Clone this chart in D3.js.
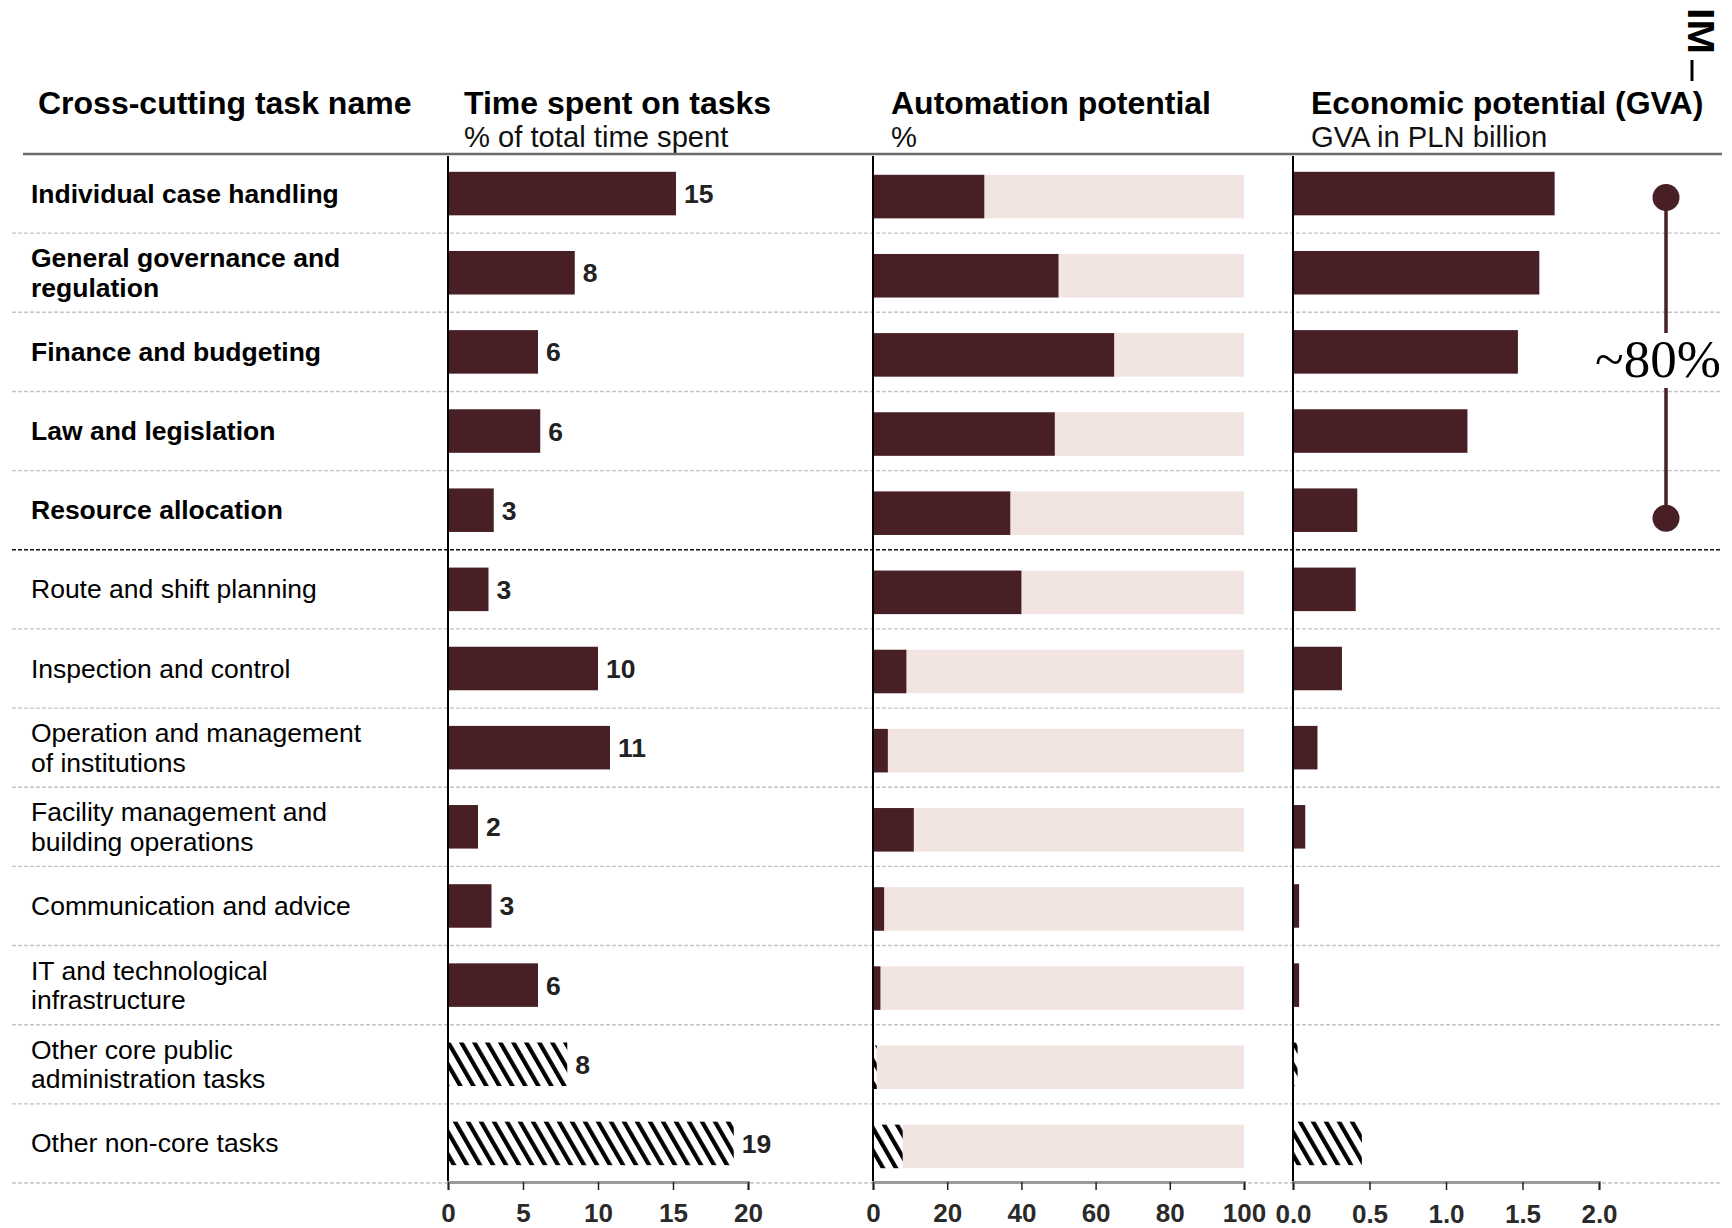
<!DOCTYPE html>
<html>
<head>
<meta charset="utf-8" />
<title>Cross-cutting tasks</title>
<style>
  html, body { margin: 0; background: #fff; }
  svg text { font-family: "Liberation Sans", Arial, sans-serif; }
</style>
</head>
<body>
<svg id="chart" width="1732" height="1228"></svg>
<script src="https://cdn.jsdelivr.net/npm/d3@7/dist/d3.min.js"></script>
<script>
// rows, top to bottom ("\n" = where the label wraps)
var categories = [
  "Individual case handling",
  "General governance and\nregulation",
  "Finance and budgeting",
  "Law and legislation",
  "Resource allocation",
  "Route and shift planning",
  "Inspection and control",
  "Operation and management\nof institutions",
  "Facility management and\nbuilding operations",
  "Communication and advice",
  "IT and technological\ninfrastructure",
  "Other core public\nadministration tasks",
  "Other non-core tasks"
];
// top = the ~80% group, rest = other named tasks, other = hatched remainder
var taskGroup = ["top", "top", "top", "top", "top",
  "rest", "rest", "rest", "rest", "rest", "rest", "other", "other"];

var timeSpent  = [15.2, 8.45, 6.0, 6.15, 3.05, 2.7, 10.0, 10.8, 2.0, 2.9, 6.0, 7.95, 19.05]; // % of total time
var automation = [30, 50, 65, 49, 37, 40, 9, 4, 11, 3, 2, 1, 8];                            // %
var gva        = [1.71, 1.61, 1.47, 1.14, 0.42, 0.41, 0.32, 0.16, 0.08, 0.04, 0.04, 0.03, 0.45]; // PLN bn

var timeTicks = [0, 5, 10, 15, 20];
var autoTicks = [0, 20, 40, 60, 80, 100];
var gvaTicks  = [0, 0.5, 1, 1.5, 2];

var headers = [
  { title: "Cross-cutting task name", sub: "" },
  { title: "Time spent on tasks", sub: "% of total time spent" },
  { title: "Automation potential", sub: "%" },
  { title: "Economic potential (GVA)", sub: "GVA in PLN billion" }
];

var MAROON = "#481f25", PINK = "#f2e4e1";

var svg = d3.select("#chart");

var defs = svg.append("defs");
var hatch = defs.append("pattern")
    .attr("id", "hatch")
    .attr("patternUnits", "userSpaceOnUse")
    .attr("width", 13)
    .attr("height", 10)
    .attr("patternTransform", "skewX(30)");
hatch.append("rect").attr("width", 13).attr("height", 10).attr("fill", "#fff");
hatch.append("rect").attr("width", 4.8).attr("height", 10).attr("fill", "#000");

var y = d3.scaleBand()
    .domain(categories)
    .range([154, 1183])
    .paddingInner(0.45)
    .paddingOuter(0.225);

var xTime = d3.scaleLinear().domain([0, 20]).range([448, 748]);
var xAuto = d3.scaleLinear().domain([0, 100]).range([873, 1244]);
var xGva  = d3.scaleLinear().domain([0, 2]).range([1293, 1599]);

var rows = categories.map(function(c, i) {
  return { name: c, group: taskGroup[i], time: timeSpent[i], auto: automation[i], gva: gva[i] };
});

function rowTop(d) { return y(d.name) - y.step() * y.paddingInner() / 2; }
function barFill(d) { return d.group == "other" ? "url(#hatch)" : MAROON; }

// header texts
var headX = [38, 464, 891, 1311];
headers.forEach(function(h, i) {
  svg.append("text")
    .attr("x", headX[i]).attr("y", 114)
    .attr("font-size", 32).attr("font-weight", "bold").attr("fill", "#000")
    .text(h.title);
  if (h.sub) {
    svg.append("text")
      .attr("x", headX[i]).attr("y", 147)
      .attr("font-size", 29.2).attr("fill", "#111")
      .text(h.sub);
  }
});

// logo
svg.append("text")
  .attr("transform", "translate(1688,8) rotate(90)")
  .attr("font-size", 36).attr("font-weight", "bold")
  .attr("textLength", 46).attr("lengthAdjust", "spacingAndGlyphs")
  .text("IM");
svg.append("line")
  .attr("x1", 1692).attr("x2", 1692).attr("y1", 60).attr("y2", 81)
  .attr("stroke", "#000").attr("stroke-width", 3);

// row separators
svg.append("g").selectAll("line")
  .data(rows)
  .join("line")
    .attr("x1", 12).attr("x2", 1722)
    .attr("y1", function(d) { return rowTop(d) + y.step(); })
    .attr("y2", function(d) { return rowTop(d) + y.step(); })
    .attr("stroke", function(d, i) { return i == 4 ? "#111" : "#c4c4c4"; })
    .attr("stroke-width", function(d, i) { return i == 4 ? 1.6 : 1.4; })
    .attr("stroke-dasharray", "4,2");

svg.append("line")
  .attr("x1", 23).attr("x2", 1722).attr("y1", 154).attr("y2", 154)
  .attr("stroke", "#6b6b6b").attr("stroke-width", 2.5);

// task labels
var labels = svg.append("g").selectAll("text")
  .data(rows)
  .join("text")
    .attr("x", 31)
    .attr("font-size", 26.5)
    .attr("font-weight", function(d) { return d.group == "top" ? "bold" : "normal"; })
    .attr("fill", "#000");
labels.each(function(d) {
  var lines = d.name.split("\n");
  var mid = y(d.name) + y.bandwidth() / 2;
  var first = mid + 9 - (lines.length - 1) * 14.5;
  d3.select(this).selectAll("tspan")
    .data(lines)
    .join("tspan")
      .attr("x", 31)
      .attr("y", function(l, k) { return first + k * 29.5; })
      .text(function(l) { return l; });
});

// time spent
var gTime = svg.append("g");
gTime.selectAll("rect")
  .data(rows)
  .join("rect")
    .attr("x", xTime(0))
    .attr("y", function(d) { return y(d.name); })
    .attr("width", function(d) { return xTime(d.time) - xTime(0); })
    .attr("height", y.bandwidth())
    .attr("fill", barFill);
gTime.selectAll("text")
  .data(rows)
  .join("text")
    .attr("x", function(d) { return xTime(d.time) + 8; })
    .attr("y", function(d) { return y(d.name) + y.bandwidth() / 2 + 9.5; })
    .attr("font-size", 26.5).attr("font-weight", "bold").attr("fill", "#222")
    .text(function(d) { return Math.round(d.time); });

// automation potential
var gAuto = svg.append("g").attr("transform", "translate(0,3)");
gAuto.selectAll("rect.bg")
  .data(rows)
  .join("rect")
    .attr("class", "bg")
    .attr("x", xAuto(0))
    .attr("y", function(d) { return y(d.name); })
    .attr("width", xAuto(100) - xAuto(0))
    .attr("height", y.bandwidth())
    .attr("fill", PINK);
gAuto.selectAll("rect.val")
  .data(rows)
  .join("rect")
    .attr("class", "val")
    .attr("x", xAuto(0))
    .attr("y", function(d) { return y(d.name); })
    .attr("width", function(d) { return xAuto(d.auto) - xAuto(0); })
    .attr("height", y.bandwidth())
    .attr("fill", barFill);

// GVA
svg.append("g").selectAll("rect")
  .data(rows)
  .join("rect")
    .attr("x", xGva(0))
    .attr("y", function(d) { return y(d.name); })
    .attr("width", function(d) { return xGva(d.gva) - xGva(0); })
    .attr("height", y.bandwidth())
    .attr("fill", barFill);

// vertical baselines
[xTime(0), xAuto(0), xGva(0)].forEach(function(x) {
  svg.append("line")
    .attr("x1", x).attr("x2", x).attr("y1", 156).attr("y2", 1182)
    .attr("stroke", "#000").attr("stroke-width", 2);
});

// bottom axes
function drawAxis(scale, ticks, fmt, pad) {
  var g = svg.append("g")
    .attr("transform", "translate(0,1182)")
    .call(d3.axisBottom(scale).tickValues(ticks).tickSize(8).tickPadding(pad).tickFormat(fmt));
  g.select(".domain").attr("stroke", "#9a9a9a").attr("stroke-width", 3);
  g.selectAll(".tick line").attr("stroke", "#222").attr("stroke-width", 1.5);
  g.selectAll(".tick text")
    .attr("font-size", 26).attr("font-weight", "bold").attr("fill", "#2a2a2a")
    .attr("font-family", "'Liberation Sans', Arial, sans-serif");
}
drawAxis(xTime, timeTicks, d3.format("d"), 13.5);
drawAxis(xAuto, autoTicks, d3.format("d"), 13.5);
drawAxis(xGva, gvaTicks, d3.format(".1f"), 14.5);

// ~80% bracket over the top group
var topRows = rows.filter(function(d) { return d.group == "top"; });
var yA = y(topRows[0].name) + y.bandwidth() / 2 + 4;
var yB = y(topRows[topRows.length - 1].name) + y.bandwidth() / 2 + 8;
var bx = 1666;
var br = svg.append("g").attr("fill", MAROON).attr("stroke", MAROON);
br.append("line").attr("x1", bx).attr("x2", bx).attr("y1", yA).attr("y2", 333).attr("stroke-width", 3.5);
br.append("line").attr("x1", bx).attr("x2", bx).attr("y1", 388).attr("y2", yB).attr("stroke-width", 3.5);
br.append("circle").attr("cx", bx).attr("cy", yA).attr("r", 13.5).attr("stroke", "none");
br.append("circle").attr("cx", bx).attr("cy", yB).attr("r", 13.5).attr("stroke", "none");
svg.append("text")
  .attr("x", 1658).attr("y", 377)
  .attr("text-anchor", "middle")
  .attr("font-size", 53)
  .style("font-family", "'Liberation Serif', 'Times New Roman', serif")
  .attr("fill", "#000")
  .text("~80%");
</script>
</body>
</html>
